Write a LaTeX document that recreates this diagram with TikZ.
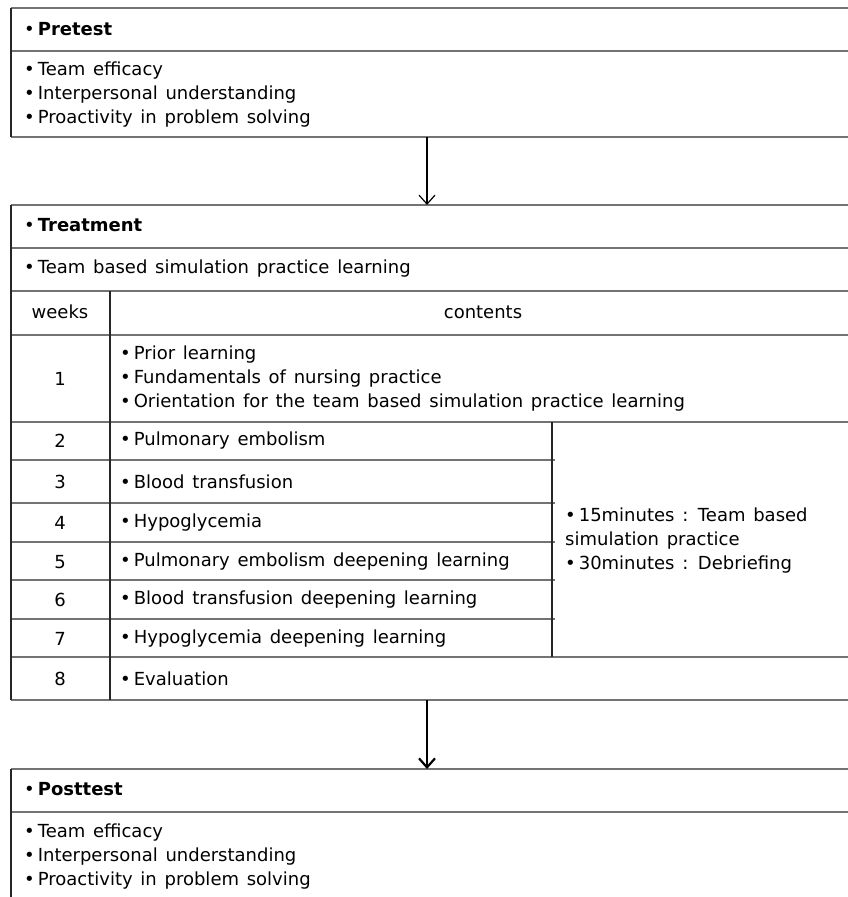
\documentclass[tikz,border=0pt]{standalone}
\usepackage{fontspec}
\setmainfont{DejaVu Sans}[WordSpace=1.35]
\usetikzlibrary{positioning, arrows.meta}

\newcommand{\bul}{\mbox{•}\hspace{3pt}}

\tikzset{
  hline/.style={draw=black!55, line width=1.6pt},
  vline/.style={draw=black!85, line width=1.3pt},
  txt/.style={anchor=west, inner sep=0pt, align=left, font=\fontsize{18}{24}\selectfont},
  ctxt/.style={inner sep=0pt, font=\fontsize{18}{24}\selectfont},
  flow/.style={-{Straight Barb[length=9pt, width=16pt]}},
}

\begin{document}
\begin{tikzpicture}[x=1pt,y=-1pt]
	\useasboundingbox (0,0) rectangle (848,897);
	\clip (0,0) rectangle (848,897);

	%frames
	\draw[hline] (11,8) -- (860,8);
	\draw[hline] (11,51) -- (860,51);
	\draw[hline] (11,137) -- (860,137);
	\draw[vline] (11,8) -- (11,137);

	\draw[hline] (11,205) -- (860,205);
	\draw[hline] (11,248) -- (860,248);
	\draw[hline] (11,291) -- (860,291);
	\draw[hline] (11,335) -- (860,335);
	\draw[hline] (11,422) -- (860,422);
	\foreach \y in {460,503,542,580,619}
		\draw[hline] (11,\y) -- (555,\y);
	\draw[hline] (11,657) -- (860,657);
	\draw[hline] (11,700) -- (860,700);
	\draw[vline] (11,205) -- (11,700);
	\draw[vline] (110,291) -- (110,700);
	\draw[vline] (552,422) -- (552,657);

	\draw[hline] (11,769) -- (860,769);
	\draw[hline] (11,812) -- (860,812);
	\draw[vline] (11,769) -- (11,900);

	%nodes
	\node[txt] (pretest) at (24,29) {\bul\textbf{Pretest}};
	\node[txt] (prelist) at (24,95) {\bul Team efficacy\\\bul Interpersonal understanding\\\bul Proactivity in problem solving};

	\node[txt] (treatment) at (24,225) {\bul\textbf{Treatment}};
	\node[txt] (program) at (24,269) {\bul Team based simulation practice learning};
	\node[ctxt] (weeks) at (60,312) {weeks};
	\node[ctxt] (contents) at (483,312) {contents};

	\node[ctxt] (w1) at (60,379) {1};
	\node[txt] (c1) at (120,379) {\bul Prior learning\\\bul Fundamentals of nursing practice\\\bul Orientation for the team based simulation practice learning};

	\node[ctxt] (w2) at (60,441) {2};
	\node[txt] (c2) at (120,441) {\bul Pulmonary embolism};
	\node[ctxt] (w3) at (60,482) {3};
	\node[txt] (c3) at (120,482) {\bul Blood transfusion};
	\node[ctxt] (w4) at (60,523) {4};
	\node[txt] (c4) at (120,523) {\bul Hypoglycemia};
	\node[ctxt] (w5) at (60,562) {5};
	\node[txt] (c5) at (120,562) {\bul Pulmonary embolism deepening learning};
	\node[ctxt] (w6) at (60,600) {6};
	\node[txt] (c6) at (120,600) {\bul Blood transfusion deepening learning};
	\node[ctxt] (w7) at (60,639) {7};
	\node[txt] (c7) at (120,639) {\bul Hypoglycemia deepening learning};
	\node[ctxt] (w8) at (60,679) {8};
	\node[txt] (c8) at (120,679) {\bul Evaluation};

	\node[txt] (session) at (565,541) {\bul 15minutes : Team based\\simulation practice\\\bul 30minutes : Debriefing};

	\node[txt] (posttest) at (24,789) {\bul\textbf{Posttest}};
	\node[txt] (postlist) at (24,857) {\bul Team efficacy\\\bul Interpersonal understanding\\\bul Proactivity in problem solving};

	%links
	\coordinate (preout) at (427,137);
	\coordinate (treatin) at (427,205);
	\coordinate (treatout) at (427,700);
	\coordinate (postin) at (427,769);
	\draw[flow, line width=1.2pt] (preout) -- (treatin);
	\draw[flow, line width=2.2pt] (treatout) -- (postin);
\end{tikzpicture}
\end{document}
